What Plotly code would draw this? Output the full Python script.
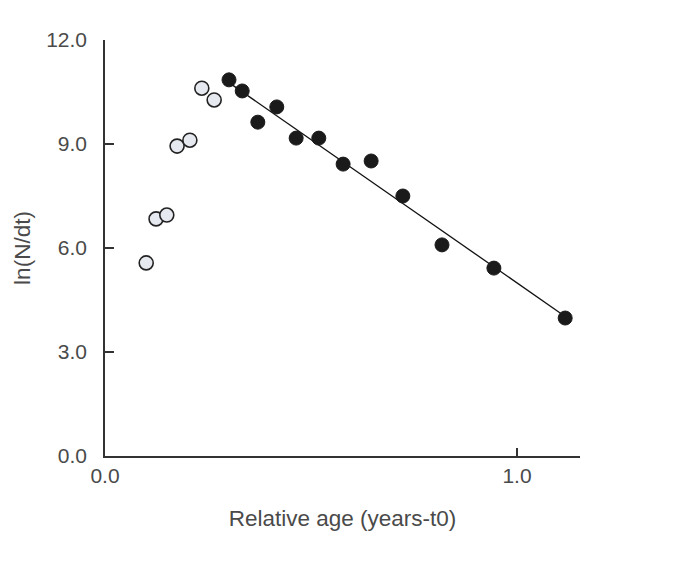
import numpy as np
import plotly.graph_objects as go

# Open circles (excluded from regression)
open_x = [0.100, 0.124, 0.150, 0.175, 0.206, 0.235, 0.265]
open_y = [5.57, 6.84, 6.95, 8.94, 9.11, 10.61, 10.27]

# Filled circles (used in regression)
fill_x = [0.301, 0.333, 0.371, 0.417, 0.464, 0.519, 0.578, 0.646, 0.723, 0.818, 0.944, 1.117]
fill_y = [10.85, 10.53, 9.63, 10.07, 9.17, 9.17, 8.42, 8.51, 7.50, 6.09, 5.42, 3.98]

x_ticks = [0.0, 1.0]
x_tick_labels = ["0.0", "1.0"]
y_ticks = [0, 3, 6, 9, 12]
y_tick_labels = ["0.0", "3.0", "6.0", "9.0", "12.0"]

slope, intercept = np.polyfit(fill_x, fill_y, 1)
line_x = [min(fill_x), max(fill_x)]
line_y = [slope * v + intercept for v in line_x]

text_color = "#4a4a4a"
font_family = "Liberation Sans, Arial, sans-serif"

fig = go.Figure()
fig.add_trace(go.Scatter(x=line_x, y=line_y, mode="lines",
                         line=dict(color="#111111", width=1.3), showlegend=False))
fig.add_trace(go.Scatter(x=open_x, y=open_y, mode="markers",
                         marker=dict(size=14, color="#e6e9ef", line=dict(color="#222222", width=1.6)),
                         showlegend=False))
fig.add_trace(go.Scatter(x=fill_x, y=fill_y, mode="markers",
                         marker=dict(size=14, color="#1a1a1a", line=dict(color="#1a1a1a", width=1)),
                         showlegend=False))

fig.update_layout(
    width=693, height=569,
    margin=dict(l=105, r=113, t=40, b=113),
    paper_bgcolor="white", plot_bgcolor="white",
    font=dict(family=font_family, color=text_color, size=21),
    xaxis=dict(
        range=[0, 1.153], showgrid=False, zeroline=False,
        showline=True, linecolor="#333333", linewidth=1.6,
        ticks="inside", ticklen=8, tickcolor="#333333", tickwidth=1.5,
        tickvals=x_ticks, ticktext=x_tick_labels,
        tickfont=dict(size=21, color=text_color),
        title=dict(text="Relative age (years-t0)", standoff=24, font=dict(size=22.5, color=text_color)),
        automargin=False,
    ),
    yaxis=dict(
        range=[0, 12], showgrid=False, zeroline=False,
        showline=True, linecolor="#333333", linewidth=1.6,
        ticks="inside", ticklen=9, tickcolor="#333333", tickwidth=1.5,
        tickvals=y_ticks, ticktext=y_tick_labels,
        tickfont=dict(size=21, color=text_color),
        ticklabelstandoff=12,
        title=dict(text="ln(N/dt)", standoff=9, font=dict(size=22.5, color=text_color)),
        automargin=False,
    ),
)

fig.write_html("out.html")
